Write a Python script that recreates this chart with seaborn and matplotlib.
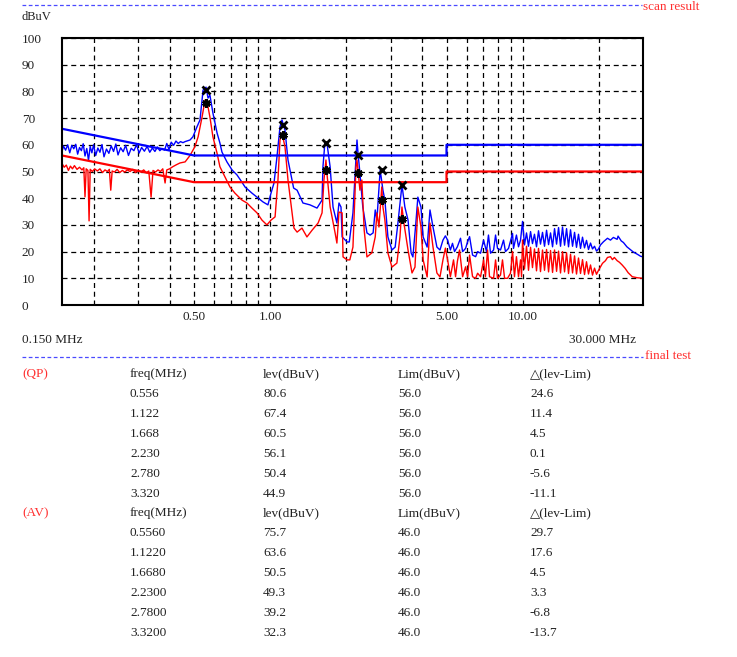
import matplotlib
matplotlib.use("Agg")
import matplotlib.pyplot as plt
import numpy as np
import seaborn as sns
from matplotlib.lines import Line2D
from matplotlib.ticker import FixedLocator, NullFormatter

# ---- scan traces (MHz, dBuV) ----
qp_scan_freq = [0.150, 0.152, 0.155, 0.158, 0.161, 0.164, 0.167, 0.170, 0.173, 0.176, 0.179, 0.182,
                0.185, 0.188, 0.191, 0.194, 0.197, 0.200, 0.204, 0.208, 0.212, 0.216, 0.220, 0.225,
                0.230, 0.235, 0.240, 0.245, 0.250, 0.256, 0.262, 0.268, 0.275, 0.282, 0.289, 0.296,
                0.303, 0.310, 0.318, 0.326, 0.334, 0.342, 0.350, 0.358, 0.366, 0.374, 0.382, 0.390,
                0.398, 0.406, 0.415, 0.424, 0.433, 0.442, 0.452,
                0.461, 0.482, 0.495, 0.514, 0.528, 0.543, 0.558, 0.568, 0.578, 0.594, 0.617, 0.633,
                0.645, 0.675, 0.707, 0.740, 0.774, 0.796, 0.848, 0.888, 0.938, 0.981, 1.009, 1.037,
                1.065, 1.095, 1.115, 1.146, 1.178, 1.222, 1.240, 1.280, 1.350, 1.440, 1.535, 1.607,
                1.620, 1.650, 1.680, 1.730,
                1.776, 1.840, 1.875, 1.910, 1.930, 2.020, 2.060, 2.130, 2.210, 2.230, 2.270, 2.330,
                2.420, 2.490, 2.560, 2.610, 2.650, 2.730, 2.800, 2.850, 2.930, 3.040, 3.130, 3.210,
                3.330, 3.420, 3.520, 3.620, 3.680, 3.780, 3.850, 3.960, 4.040, 4.190, 4.300, 4.420,
                4.580, 4.710, 4.840,
                4.95, 5.05, 5.18, 5.28, 5.38, 5.52, 5.68, 5.79, 5.95, 6.06, 6.17, 6.34, 6.52, 6.64,
                6.82, 7.01, 7.20, 7.33, 7.47, 7.68, 7.82, 7.96, 8.18, 8.41, 8.56, 8.80, 9.13, 9.21,
                9.46, 9.64, 9.82, 10.0,
                10.18, 10.37, 10.56, 10.76, 10.95, 11.15, 11.36, 11.57, 11.78, 12.00, 12.22, 12.45,
                12.68, 12.91, 13.15, 13.39, 13.64, 13.89, 14.14, 14.40, 14.67, 14.94, 15.21, 15.49,
                15.78, 16.07, 16.36, 16.66, 16.97, 17.28, 17.60, 17.92, 18.25, 18.59, 18.93, 19.28,
                19.63, 20.0,
                20.36, 20.92, 21.7, 22.3, 22.9, 23.7, 23.9, 24.6, 25.1, 25.9, 26.7, 27.5, 28.5,
                29.3, 30.0]
qp_scan_lev = [57.5, 59.5, 58.0, 60.0, 57.0, 59.8, 58.5, 60.2, 56.5, 59.0, 57.8, 60.4,
               55.8, 58.6, 54.2, 59.4, 57.0, 60.0, 56.0, 58.8, 57.2, 60.1, 55.5, 58.4,
               56.8, 59.6, 57.5, 60.3, 56.2, 58.9, 57.4, 59.8, 56.0, 58.7, 57.8, 60.0,
               56.9, 59.0, 57.6, 59.4, 57.2, 58.8, 57.5, 59.2, 57.8, 58.6, 58.0, 60.5,
               58.2, 61.0, 59.8, 61.4, 60.5, 61.2, 60.8,
               61.2, 61.8, 63.0, 66.8, 69.3, 80.5, 81.6, 77.5, 78.6, 71.9, 64.4, 60.7,
               57.3, 53.6, 50.6, 48.7, 46.0, 44.2, 41.9, 40.4, 38.6, 37.5, 41.9, 45.7,
               55.4, 66.7, 69.3, 65.5, 54.3, 46.8, 43.8, 43.0, 38.2, 37.5, 36.3, 39.3,
               51.7, 61.0, 60.7, 51.7,
               36.7, 30.7, 38.2, 36.7, 25.5, 23.6, 23.6, 34.5, 61.8, 57.0, 49.4, 36.7,
               27.0, 26.2, 27.0, 35.6, 31.8, 50.6, 43.0, 39.3, 25.5, 20.6, 21.7, 30.7,
               44.9, 36.7, 31.8, 19.5, 18.0, 30.7, 40.4, 36.7, 25.5, 21.7, 35.6, 29.2,
               21.7, 20.6, 24.3,
               25.9, 24.3, 20.6, 23.1, 20.0, 21.8, 25.0, 20.0, 21.2, 23.7, 25.6, 18.7, 18.1, 20.0,
               19.4, 24.3, 20.0, 26.2, 19.4, 20.6, 26.2, 21.2, 20.6, 24.3, 20.0, 21.2, 26.8, 21.2,
               26.2, 21.8, 24.3, 31.3,
               22.5, 27.0, 22.0, 27.5, 23.0, 26.5, 21.8, 27.8, 22.8, 27.2, 22.0, 28.0,
               22.6, 27.0, 21.8, 28.6, 22.8, 29.0, 22.0, 29.2, 22.4, 28.6, 21.8, 28.2,
               22.0, 27.2, 21.6, 26.5, 21.2, 25.4, 21.4, 24.2, 20.8, 23.2, 21.0, 22.0,
               20.2, 21.0,
               22.5, 23.7, 25.0, 24.3, 25.3, 24.6, 25.8, 24.0, 23.4, 21.8, 20.8, 19.8, 19.0,
               18.3, 18.0]

av_scan_freq = [0.150, 0.153, 0.156, 0.159, 0.162, 0.165, 0.168, 0.172, 0.176, 0.180, 0.183, 0.185,
                0.187, 0.190, 0.192, 0.194, 0.198, 0.202, 0.207, 0.212, 0.217, 0.222, 0.227, 0.231,
                0.234, 0.237, 0.242, 0.248, 0.254, 0.260, 0.266, 0.272, 0.279, 0.286, 0.293, 0.300,
                0.308, 0.316, 0.324, 0.331, 0.338, 0.344, 0.352, 0.360, 0.368, 0.376, 0.384, 0.390,
                0.400, 0.412, 0.425, 0.440,
                0.461, 0.482, 0.504, 0.519, 0.538, 0.553, 0.568, 0.578, 0.594, 0.617, 0.633, 0.663,
                0.694, 0.726, 0.774, 0.810, 0.848, 0.888, 0.929, 0.972, 1.009, 1.047, 1.075, 1.095,
                1.115, 1.146, 1.178, 1.222, 1.244, 1.280, 1.338, 1.400, 1.467, 1.550, 1.607, 1.635,
                1.665, 1.680, 1.730,
                1.810, 1.840, 1.875, 1.930, 1.946, 2.020, 2.070, 2.130, 2.190, 2.210, 2.270, 2.310,
                2.360, 2.420, 2.530, 2.610, 2.650, 2.700, 2.770, 2.800, 2.850, 2.930, 3.040, 3.180,
                3.270, 3.330, 3.390, 3.520, 3.650, 3.750, 3.850, 3.960, 4.040, 4.190, 4.300, 4.420,
                4.580, 4.710, 4.840,
                4.95, 5.05, 5.18, 5.33, 5.43, 5.52, 5.63, 5.79, 5.95, 6.06, 6.17, 6.34, 6.52, 6.64,
                6.82, 7.01, 7.13, 7.27, 7.40, 7.68, 7.82, 7.96, 8.18, 8.33, 8.49, 8.72, 8.96, 9.13,
                9.29, 9.46, 9.64, 9.82, 9.91, 10.0,
                10.18, 10.37, 10.56, 10.76, 10.95, 11.15, 11.36, 11.57, 11.78, 12.00, 12.22, 12.45,
                12.68, 12.91, 13.15, 13.39, 13.64, 13.89, 14.14, 14.40, 14.67, 14.94, 15.21, 15.49,
                15.78, 16.07, 16.36, 16.66, 16.97, 17.28, 17.60, 17.92, 18.25, 18.59, 18.93, 19.28,
                19.63, 20.0,
                20.73, 21.3, 21.7, 22.3, 22.7, 23.1, 23.7, 24.2, 24.8, 25.5, 26.2, 27.2, 28.5, 30.0]
av_scan_lev = [53.0, 51.6, 52.4, 50.4, 52.0, 51.0, 52.2, 50.8, 51.6, 50.6, 51.4, 40.5,
               51.0, 50.4, 31.5, 50.8, 50.0, 51.0, 50.2, 51.0, 49.6, 50.6, 50.0, 50.8,
               43.0, 50.2, 49.8, 50.8, 49.6, 50.4, 49.8, 50.6, 50.0, 50.8, 49.6, 50.4,
               49.8, 50.6, 49.5, 50.2, 40.4, 50.4, 49.8, 50.6, 50.0, 51.0, 45.7, 50.6,
               51.0, 51.8, 52.5, 53.2,
               53.6, 56.0, 59.3, 63.0, 70.4, 76.8, 74.2, 70.4, 63.0, 56.8, 51.8, 48.0,
               44.2, 41.9, 39.3, 38.2, 36.3, 34.5, 31.8, 30.0, 31.8, 33.0, 46.8, 61.8,
               64.4, 59.3, 46.8, 34.5, 28.8, 27.3, 28.8, 25.5, 28.0, 30.7, 34.5, 46.8,
               54.3, 49.4, 36.7,
               27.0, 23.2, 34.8, 34.5, 18.0, 16.9, 16.9, 21.7, 51.7, 54.3, 43.0, 46.8,
               28.0, 18.0, 19.5, 25.5, 34.5, 29.2, 44.2, 36.7, 31.8, 19.5, 14.2, 15.7,
               25.5, 36.7, 30.7, 20.6, 12.0, 14.2, 36.7, 29.2, 16.9, 10.5, 30.7, 21.7,
               12.0, 10.5, 16.9,
               21.3, 16.9, 10.6, 16.9, 10.6, 16.3, 20.6, 10.6, 14.3, 10.6, 18.7, 10.6, 10.0, 11.9,
               10.6, 16.9, 10.6, 20.6, 10.6, 10.0, 16.9, 10.0, 11.2, 16.9, 10.0, 10.0, 11.9, 20.0,
               10.6, 18.1, 10.6, 16.9, 10.6, 24.3,
               13.5, 22.0, 13.0, 21.6, 14.0, 21.0, 12.8, 21.2, 12.5, 20.6, 13.0, 20.8,
               12.4, 20.4, 12.2, 20.6, 12.6, 20.2, 12.0, 20.0, 12.4, 19.6, 11.8, 19.0,
               12.0, 18.4, 11.6, 17.6, 11.8, 17.0, 11.4, 16.2, 11.6, 15.0, 11.2, 13.8,
               11.5, 13.0,
               15.6, 16.6, 17.8, 18.1, 17.0, 17.8, 16.6, 16.0, 15.0, 13.7, 12.1, 10.6, 10.2, 10.0]

# ---- limit lines ----
lim_freq = [0.15, 0.5, 5.0, 5.0, 30.0]
qp_lim_line = [66, 56, 56, 60, 60]
av_lim_line = [56, 46, 46, 50, 50]

# ---- final test table ----
qp_freq = ["0.556", "1.122", "1.668", "2.230", "2.780", "3.320"]
qp_lev = [80.6, 67.4, 60.5, 56.1, 50.4, 44.9]
qp_lim = [56.0, 56.0, 56.0, 56.0, 56.0, 56.0]
av_freq = ["0.5560", "1.1220", "1.6680", "2.2300", "2.7800", "3.3200"]
av_lev = [75.7, 63.6, 50.5, 49.3, 39.2, 32.3]
av_lim = [46.0, 46.0, 46.0, 46.0, 46.0, 46.0]

major_ticks = [0.5, 1.0, 5.0, 10.0]
major_labels = ["0.50", "1.00", "5.00", "10.00"]
minor_ticks = [0.2, 0.3, 0.4, 0.6, 0.7, 0.8, 0.9, 2, 3, 4, 6, 7, 8, 9, 20]

sns.set_style("white")
plt.rcParams['font.family'] = ['Liberation Serif', 'DejaVu Serif', 'DejaVu Sans']

W, H = 737, 657
fig = plt.figure(figsize=(W / 100, H / 100), dpi=100)
ax = fig.add_axes([62 / W, 1 - 305 / H, 581 / W, 267 / H])


def fx(x):
    return x / W


def fy(y):
    return 1 - y / H


TXT = '#222222'
RED = '#ff3030'

ax.set_xscale('log')
ax.set_xlim(0.15, 30)
ax.set_ylim(0, 100)

sns.lineplot(x=qp_scan_freq, y=qp_scan_lev, ax=ax, color='#0000ff', lw=1.0,
             estimator=None, sort=False)
sns.lineplot(x=av_scan_freq, y=av_scan_lev, ax=ax, color='#ff0000', lw=1.0,
             estimator=None, sort=False)
sns.lineplot(x=lim_freq, y=qp_lim_line, ax=ax, color='#0000ff', lw=1.6,
             estimator=None, sort=False)
sns.lineplot(x=lim_freq, y=av_lim_line, ax=ax, color='#ff0000', lw=1.6,
             estimator=None, sort=False)

qp_f = [float(v) for v in qp_freq]
av_f = [float(v) for v in av_freq]
ax.plot(qp_f, qp_lev, ls='none', marker='x', ms=5.5, mew=2, color='black', zorder=5)
ax.plot(av_f, av_lev, ls='none', marker=(6, 2, 0), ms=6, mew=2, color='black', zorder=5)

# grid
ax.xaxis.set_major_locator(FixedLocator(major_ticks))
ax.xaxis.set_minor_locator(FixedLocator(minor_ticks))
ax.xaxis.set_minor_formatter(NullFormatter())
ax.set_xticklabels(major_labels)
ax.set_yticks(range(0, 101, 10))
ax.grid(True, which='both', axis='x', color='black', lw=0.9, ls=(0, (4, 3)))
ax.grid(True, which='major', axis='y', color='black', lw=0.9, ls=(0, (4, 3)))
ax.set_axisbelow(True)
ax.tick_params(axis='x', which='both', direction='in', length=3, width=0.8,
               labelsize=9.5, labelcolor=TXT, pad=4)
ax.tick_params(axis='y', length=0, labelsize=9.5, labelcolor=TXT, pad=29)
for lab in ax.get_yticklabels():
    lab.set_horizontalalignment('left')
for sp in ax.spines.values():
    sp.set_visible(True)
    sp.set_color('black')
    sp.set_linewidth(1.5)
ax.set_xlabel('')
ax.set_ylabel('')

# header lines and texts
fig.add_artist(Line2D([fx(22), fx(642)], [fy(5), fy(5)], color='#4a4aff', lw=0.9, ls=(0, (3, 2))))
fig.text(fx(643), fy(7), 'scan result', color=RED, fontsize=9.5, va='center', ha='left')
fig.text(fx(22), fy(17), 'dBuV', color=TXT, fontsize=9, va='center', ha='left')
fig.text(fx(22), fy(340), '0.150 MHz', color=TXT, fontsize=9.5, va='center', ha='left')
fig.text(fx(636), fy(340), '30.000 MHz', color=TXT, fontsize=9.5, va='center', ha='right')
fig.add_artist(Line2D([fx(22), fx(643)], [fy(357), fy(357)], color='#4a4aff', lw=0.9, ls=(0, (3, 2))))
fig.text(fx(645), fy(356), 'final test', color=RED, fontsize=9.5, va='center', ha='left')

cols = [130, 263, 398, 530]
heads = ['freq(MHz)', 'lev(dBuV)', 'Lim(dBuV)', '\u25b3(lev-Lim)']


def table(y0, tag, freqs, levs, lims):
    fig.text(fx(22), fy(y0), tag, color=RED, fontsize=9.5, va='center', ha='left')
    for cx, h in zip(cols, heads):
        fig.text(fx(cx), fy(y0), h, color=TXT, fontsize=9.5, va='center', ha='left')
    for i, (f, lv, lm) in enumerate(zip(freqs, levs, lims)):
        y = y0 + 20 * (i + 1)
        row = [f, f'{lv:.1f}', f'{lm:.1f}', f'{lv - lm:.1f}']
        for cx, s in zip(cols, row):
            fig.text(fx(cx), fy(y), s, color=TXT, fontsize=9.5, va='center', ha='left')


table(374, '(QP)', qp_freq, qp_lev, qp_lim)
table(513, '(AV)', av_freq, av_lev, av_lim)

fig.savefig('out.png', dpi=100)
